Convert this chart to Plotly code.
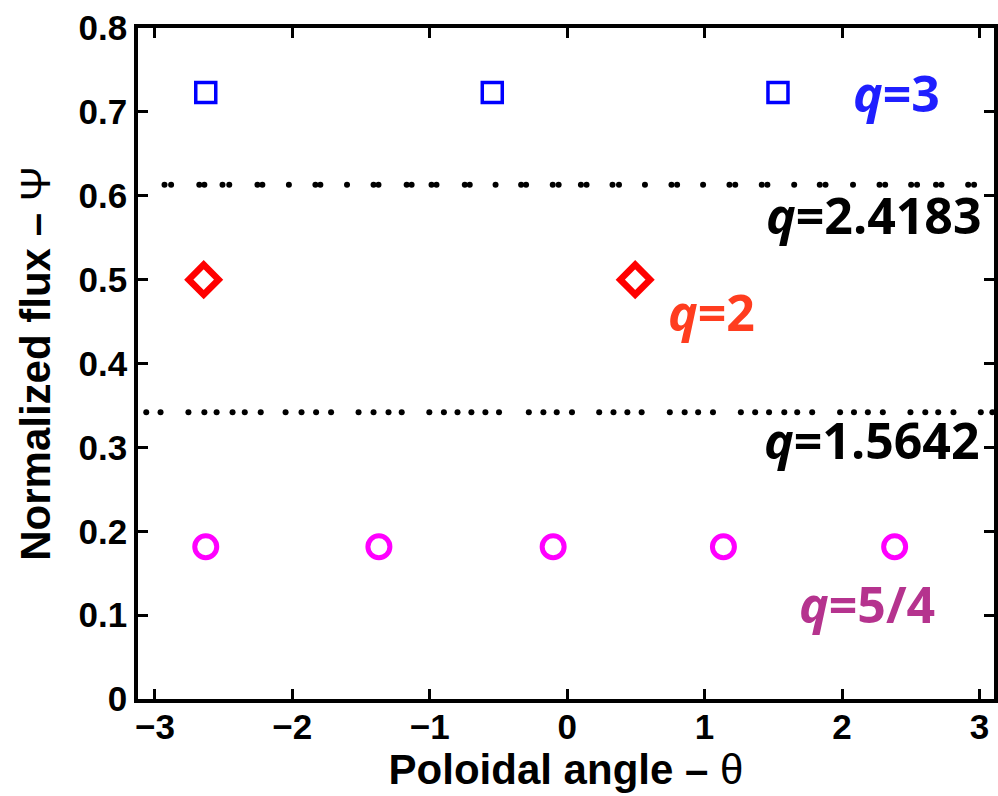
import plotly.graph_objects as go

# q = 3 surface (blue squares)
q3_theta = [-2.630, -0.545, 1.534]
q3_psi = [0.723, 0.723, 0.723]

# q = 2 surface (red diamonds)
q2_theta = [-2.645, 0.495]
q2_psi = [0.500, 0.500]

# q = 5/4 surface (magenta circles)
q54_theta = [-2.630, -1.370, -0.102, 1.137, 2.383]
q54_psi = [0.1815, 0.1815, 0.1815, 0.1815, 0.1815]

# q = 2.4183 irrational surface (dots)
qa_theta = [-2.930, -2.882, -2.677, -2.640, -2.508, -2.459, -2.254, -2.218, -2.025,
            -1.832, -1.796, -1.602, -1.409, -1.373, -1.168, -1.132, -0.987, -0.951,
            -0.745, -0.709, -0.521, -0.335, -0.299, -0.105, -0.062, 0.100, 0.141,
            0.330, 0.377, 0.566, 0.759, 0.800, 0.989, 1.181, 1.223, 1.416, 1.457,
            1.652, 1.838, 1.880, 2.080, 2.273, 2.314, 2.503, 2.546, 2.684, 2.724,
            2.918, 2.961]
qa_psi = [0.613] * len(qa_theta)

# q = 1.5642 irrational surface (dots)
qb_theta = [-3.063, -2.959, -2.756, -2.640, -2.551, -2.435, -2.346, -2.230, -2.049,
            -1.933, -1.827, -1.718, -1.518, -1.409, -1.300, -1.204, -1.003, -0.897,
            -0.798, -0.697, -0.595, -0.496, -0.279, -0.173, -0.076, 0.035, 0.233,
            0.337, 0.438, 0.542, 0.747, 0.855, 0.953, 1.061, 1.264, 1.368, 1.469,
            1.580, 1.674, 1.783, 1.986, 2.087, 2.188, 2.297, 2.498, 2.606, 2.700,
            2.811, 3.010, 3.094]
qb_psi = [0.342] * len(qb_theta)

x_ticks = [-3, -2, -1, 0, 1, 2, 3]
y_ticks = [0, 0.1, 0.2, 0.3, 0.4, 0.5, 0.6, 0.7, 0.8]
y_tick_text = ["0", "0.1", "0.2", "0.3", "0.4", "0.5", "0.6", "0.7", "0.8"]

fig = go.Figure()
fig.add_trace(go.Scatter(x=qa_theta, y=qa_psi, mode="markers",
                         marker=dict(color="black", size=6, line=dict(width=0))))
fig.add_trace(go.Scatter(x=qb_theta, y=qb_psi, mode="markers",
                         marker=dict(color="black", size=6, line=dict(width=0))))
fig.add_trace(go.Scatter(x=q3_theta, y=q3_psi, mode="markers",
                         marker=dict(symbol="square-open", color="#0000ff", size=20,
                                     line=dict(width=3.5, color="#0000ff"))))
fig.add_trace(go.Scatter(x=q2_theta, y=q2_psi, mode="markers",
                         marker=dict(symbol="diamond-open", color="#ff0000", size=23,
                                     line=dict(width=6.5, color="#ff0000"))))
fig.add_trace(go.Scatter(x=q54_theta, y=q54_psi, mode="markers",
                         marker=dict(symbol="circle-open", color="#ff00ff", size=22,
                                     line=dict(width=5, color="#ff00ff"))))

afont = "Open Sans"
def lab(x, y, text, color, xanchor="center"):
    fig.add_annotation(x=x, y=y, xref="x", yref="y", text=text, showarrow=False,
                       xanchor=xanchor, yanchor="middle",
                       font=dict(family=afont, size=50, color=color, weight="bold"))

lab(2.40, 0.722, "<i>q</i>=3", "#1f1fff")
lab(3.035, 0.577, "<i>q</i>=2.4183", "black", xanchor="right")
lab(1.05, 0.462, "<i>q</i>=2", "#ff3d1f")
lab(3.02, 0.309, "<i>q</i>=1.5642", "black", xanchor="right")
lab(2.18, 0.113, "<i>q</i>=5/4", "#b5338e")

tickfont = dict(family="Liberation Sans, Arial", size=35, color="black", weight="bold")
fig.update_layout(
    width=998, height=796,
    margin=dict(l=138, r=0, t=28, b=97),
    plot_bgcolor="white", paper_bgcolor="white",
    showlegend=False,
    font=dict(family="Liberation Sans, Arial", color="black"),
    xaxis=dict(range=[-3.123, 3.106], tickvals=x_ticks,
               ticktext=["\u22123", "\u22122", "\u22121", "0", "1", "2", "3"],
               ticks="inside", ticklen=10, tickwidth=3, tickcolor="black",
               showline=True, linewidth=3.5, linecolor="black", mirror="ticks",
               showgrid=False, zeroline=False, tickfont=tickfont,
               ticklabelstandoff=-6,
               title=dict(text="Poloidal angle \u2013 <span style='font-weight:normal'>\u03b8</span>",
                          font=dict(size=42, weight="bold", family="Liberation Sans, Arial"),
                          standoff=0)),
    yaxis=dict(range=[0, 0.8], tickvals=y_ticks, ticktext=y_tick_text,
               ticks="inside", ticklen=10, tickwidth=3, tickcolor="black",
               showline=True, linewidth=3.5, linecolor="black", mirror="ticks",
               showgrid=False, zeroline=False, tickfont=tickfont,
               title=dict(text="Normalized flux \u2013 <span style='font-weight:normal'>\u03a8</span>",
                          font=dict(size=42, weight="bold", family="Liberation Sans, Arial"),
                          standoff=16)),
)

fig.write_html("out.html")
